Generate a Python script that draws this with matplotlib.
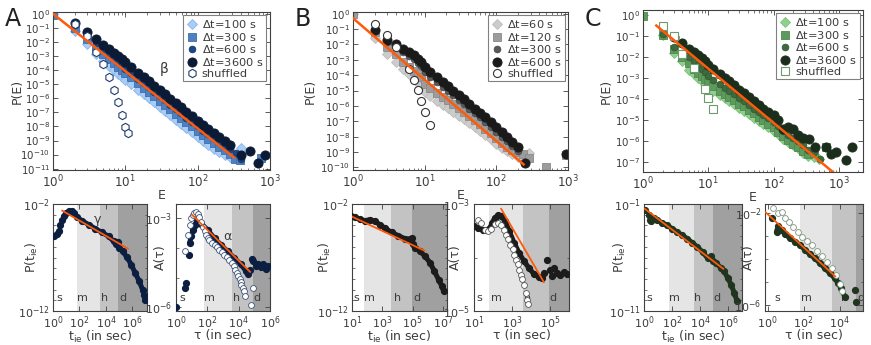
import numpy as np
import matplotlib
matplotlib.use("Agg")
import matplotlib.pyplot as plt
from matplotlib.ticker import FixedLocator, NullFormatter, NullLocator

nan = np.nan

# ---------------- top row: P(E), values are log10 P ----------------
E_bins = [1, 2, 3, 4, 5, 6, 7, 8, 9, 10, 12, 15, 18, 21, 25, 30, 35, 42, 50,
          59, 70, 83, 100, 119, 141, 168, 200, 237, 282]

A_100 = [-0.05, -1.2, -2.15, -2.85, -3.35, -3.7, -4.0, -4.25, -4.5, -4.7, -5.02, -5.4, -5.72, -5.98,
         -6.3, -6.62, -6.9, -7.22, -7.53, -7.82, -8.12, -8.42, -8.72, -9.02, -9.3, -9.58, -9.85, -10.05, -10.2]
A_300 = [-0.1, -1.0, -1.8, -2.4, -2.85, -3.2, -3.5, -3.75, -3.98, -4.2, -4.52, -4.92, -5.25, -5.52,
         -5.85, -6.18, -6.45, -6.78, -7.1, -7.4, -7.7, -8.0, -8.32, -8.62, -8.9, -9.17, -9.45, -9.7, -9.95]
A_600 = [nan, -0.8, -1.5, -2.05, -2.5, -2.85, -3.15, -3.4, -3.65, -3.9, -4.2, -4.6, -4.92, -5.2,
         -5.52, -5.85, -6.12, -6.45, -6.77, -7.07, -7.37, -7.68, -8.0, -8.3, -8.57, -8.85, -9.12, -9.38, -9.62]
A_3600 = [nan, -0.66, -1.32, -1.8, -2.2, -2.5, -2.78, -3.0, -3.22, -3.45, -3.78, -4.18, -4.5, -4.78,
          -5.1, -5.43, -5.7, -6.03, -6.35, -6.65, -6.95, -7.26, -7.6, -7.9, -8.17, -8.47, -8.75, -9.03, -9.35]
A_100_tailE, A_100_tailP = [340, 400], [-10.15, -9.5]
A_300_tailE, A_300_tailP = [330, 390, 760], [-10.3, -10.4, -10.25]
A_600_tailE, A_600_tailP = [340, 400], [-9.9, -10.3]
A_3600_tailE, A_3600_tailP = [400, 525, 685, 850], [-10.0, -9.76, -10.6, -10.05]
A_shufE = [2, 3, 4, 5, 6, 7, 8, 9, 10, 11]
A_shufP = [-0.75, -1.6, -2.7, -3.55, -4.5, -5.4, -6.3, -7.2, -8.05, -8.5]
A_fitE, A_fitP = [1, 320], [0.0, -10.2]

B_60 = [0.0, -1.56, -2.6, -3.14, -3.6, -3.95, -4.25, -4.5, -4.72, -5.1, -5.38, -5.68, -5.92, -6.15,
        -6.4, -6.65, -6.88, -7.12, -7.38, -7.62, -7.88, -8.15, -8.45, -8.72, -8.95, -9.15, -9.3, -9.4, -9.05]
B_120 = [-0.05, -1.19, -2.16, -2.6, -3.14, -3.45, -3.7, -3.95, -4.15, -4.6, -4.85, -5.15, -5.4, -5.62,
         -5.88, -6.15, -6.38, -6.65, -6.92, -7.2, -7.48, -7.78, -8.08, -8.38, -8.65, -8.85, -9.0, -9.1, -9.4]
B_300 = [nan, -1.15, -1.85, -2.15, -2.5, -2.75, -2.98, -3.2, -3.4, -3.8, -4.1, -4.45, -4.75, -5.02,
         -5.32, -5.62, -5.88, -6.18, -6.48, -6.75, -7.05, -7.35, -7.68, -8.0, -8.3, -8.6, -8.9, nan, nan]
B_600 = [nan, -1.04, -1.73, -1.95, -2.27, -2.5, -2.72, -2.95, -3.15, -3.5, -3.8, -4.15, -4.45, -4.72,
         -5.02, -5.32, -5.58, -5.88, -6.18, -6.45, -6.75, -7.05, -7.38, -7.7, -8.0, -8.32, -8.66, nan, nan]
B_60_tailE, B_60_tailP = [], []
B_120_tailE, B_120_tailP = [500, 930], [-9.95, -9.2]
B_300_tailE, B_300_tailP = [930], [-9.2]
B_600_tailE, B_600_tailP = [250, 930], [-9.7, -9.1]
B_shufE = [2, 3, 4, 6, 7, 8, 9, 10, 12]
B_shufP = [-0.69, -1.41, -2.16, -3.57, -4.33, -4.98, -5.67, -6.39, -7.25]
B_fitE, B_fitP = [1, 240], [-0.3, -9.8]

C_100 = [nan, -0.95, -1.81, -2.2, -2.6, -2.8, -3.0, -3.15, -3.3, -3.42, -3.6, -3.8, -3.95, -4.1,
         -4.25, -4.42, -4.55, -4.72, -4.88, -5.02, -5.18, -5.35, -5.5, -5.68, -5.88, -6.05, -6.2, -6.35, -6.55]
C_300 = [-0.05, -0.95, -1.6, -2.0, -2.3, -2.55, -2.75, -2.9, -3.05, -3.2, -3.4, -3.6, -3.75, -3.9,
         -4.05, -4.22, -4.35, -4.52, -4.68, -4.85, -5.0, -5.18, -5.35, -5.55, -5.75, -5.95, -6.15, -6.3, -6.45]
C_600 = [nan, -0.9, -1.5, -1.8, -2.0, -2.2, -2.4, -2.55, -2.7, -2.9, -3.1, -3.3, -3.45, -3.6,
         -3.75, -3.95, -4.1, -4.3, -4.45, -4.6, -4.75, -4.92, -5.1, -5.3, -5.5, -5.7, -5.85, -6.0, -6.2]
C_3600 = [nan, nan, -1.05, -1.34, -1.6, -1.75, -1.9, -2.05, -2.2, -2.36, -2.55, -2.8, -3.0, -3.15,
          -3.35, -3.55, -3.72, -3.92, -4.1, -4.3, -4.48, -4.62, -4.75, -5.0, -5.4, -5.35, -5.42, -5.7, -5.85]
C_100_tailE, C_100_tailP = [340, 420, 500], [-6.7, -6.75, -6.85]
C_300_tailE, C_300_tailP = [340, 420, 640], [-6.6, -6.55, -6.3]
C_600_tailE, C_600_tailP = [340, 420, 520], [-6.4, -6.5, -6.85]
C_3600_tailE = [355, 425, 640, 760, 900, 1290, 1600]
C_3600_tailP = [-5.9, -6.29, -6.29, -6.6, -6.5, -6.9, -6.3]
C_shufE = [2, 3, 4, 6, 9, 10, 12]
C_shufP = [-0.52, -1.02, -1.85, -2.52, -3.51, -3.93, -4.45]
C_fitE, C_fitP = [1.6, 810], [-0.5, -7.47]

# ---------------- bottom row: log10 t, log10 value ----------------
A_tie_t = [0.07, 0.27, 0.45, 0.52, 0.65, 0.82, 1.0, 1.2, 1.4, 1.57, 1.82, 2.2, 2.7, 3.2, 3.7, 4.2,
           4.58, 4.76, 4.91, 5.0, 5.26, 5.59, 5.91, 6.21, 6.51, 6.76, 6.89, 6.96]
A_tie_P = [-5.02, -4.8, -4.55, -3.93, -3.46, -3.15, -2.84, -2.69, -2.69, -2.84, -3.25, -3.56, -3.93,
           -4.31, -4.65, -5.02, -5.49, -5.71, -5.55, -6.11, -6.42, -6.98, -7.67, -8.45, -9.22, -10.0, -10.48, -10.94]
A_tie_fit_t, A_tie_fit_P = [0.7, 5.66], [-2.62, -6.17]

A_ac_t = [0.03, 0.56, 0.66, 0.81, 0.87, 0.98, 1.08, 1.19, 1.36, 1.61, 2.03, 2.46, 2.88, 3.3, 3.72, 4.14,
          4.46, 4.6, 4.73, 4.82, 4.94, 5.09, 5.24, 5.41, 5.58, 5.75, 5.89]
A_ac_A = [-6.0, -5.34, -5.2, -4.25, -3.85, -3.59, -3.4, -3.24, -3.07, -3.18, -3.4, -3.68, -3.9, -4.12,
          -4.34, -4.56, -4.78, -4.87, -4.73, -4.37, -4.43, -4.62, -4.54, -4.65, -4.56, -4.7, -4.62]
A_acs_t = [0.56, 0.77, 0.87, 0.98, 1.08, 1.18, 1.29, 1.4, 1.5, 1.6, 1.72, 1.83, 1.93, 2.04, 2.14, 2.3,
           2.46, 2.62, 2.77, 2.93, 3.09, 3.25, 3.41, 3.55, 3.68, 3.79, 3.89, 3.98, 4.06, 4.12, 4.18,
           4.25, 4.31, 4.39, 4.77, 4.94]
A_acs_A = [-4.12, -3.57, -3.24, -2.99, -2.88, -2.82, -2.79, -2.85, -2.96, -3.12, -3.29, -3.44, -3.57,
           -3.67, -3.74, -3.82, -3.9, -3.98, -4.07, -4.15, -4.23, -4.31, -4.4, -4.51, -4.62, -4.73,
           -4.84, -4.95, -5.06, -5.15, -5.25, -5.36, -5.47, -5.61, -5.94, -5.36]
A_ac_fit_t, A_ac_fit_A = [1.02, 4.73], [-2.88, -4.81]

B_tie_t = [0.96, 1.18, 1.51, 1.84, 2.17, 2.5, 2.84, 3.17, 3.61, 4.05, 4.49, 4.82, 4.93, 5.0, 5.15,
           5.48, 5.81, 6.15, 6.43, 6.7, 6.92, 7.03]
B_tie_P = [-3.15, -3.25, -3.4, -3.56, -3.46, -3.62, -3.93, -4.24, -4.65, -4.96, -5.24, -5.3, -5.2,
           -5.74, -6.11, -6.42, -6.89, -7.51, -8.29, -9.07, -9.69, -10.16]
B_tie_fit_t, B_tie_fit_P = [0.96, 5.77], [-3.15, -6.36]

B_ac_t = [1.02, 1.22, 1.48, 1.65, 1.83, 1.95, 2.09, 2.26, 2.43, 2.64, 2.86, 3.12, 3.38, 3.64, 3.9,
          4.16, 4.42, 4.59, 4.71, 4.85, 4.99, 5.11, 5.23, 5.37, 5.54, 5.72, 5.89]
B_ac_A = [-3.42, -3.45, -3.48, -3.49, -3.45, -3.36, -3.26, -3.21, -3.23, -3.32, -3.51, -3.73, -3.92,
          -4.07, -4.2, -4.31, -4.37, -4.38, -4.29, -4.04, -4.23, -4.35, -4.2, -4.29, -4.32, -4.27, -4.31]
B_acs_t = [1.22, 1.39, 1.57, 1.74, 1.91, 2.09, 2.26, 2.43, 2.57, 2.69, 2.81, 2.92, 3.04, 3.12, 3.21,
           3.3, 3.38, 3.47, 3.55, 3.64, 3.72, 3.81, 3.87]
B_acs_A = [-3.29, -3.36, -3.48, -3.51, -3.46, -3.37, -3.36, -3.4, -3.48, -3.57, -3.66, -3.76, -3.85,
           -3.95, -4.04, -4.13, -4.23, -4.32, -4.41, -4.52, -4.66, -4.79, -4.87]
B_ac_fit_t, B_ac_fit_A = [2.43, 4.68], [-3.09, -4.46]

C_tie_t = [0.05, 0.34, 0.46, 0.53, 0.7, 0.94, 1.3, 1.66, 2.02, 2.38, 2.74, 3.1, 3.46, 3.82, 4.18,
           4.54, 4.78, 4.94, 5.14, 5.5, 5.73, 5.98, 6.22, 6.45, 6.65]
C_tie_P = [-1.53, -2.0, -2.47, -2.62, -2.31, -2.47, -2.78, -2.99, -3.31, -3.62, -3.93, -4.24, -4.64,
           -5.02, -5.49, -6.05, -5.89, -6.36, -6.51, -6.98, -7.29, -7.92, -8.54, -9.32, -10.1]
C_tie_fit_t, C_tie_fit_P = [0.05, 5.66], [-1.44, -7.05]

C_ac_t = [0.22, 0.49, 0.59, 0.77, 0.96, 1.24, 1.51, 1.79, 2.07, 2.34, 2.62, 2.9, 3.17, 3.45, 3.73,
          3.91, 4.09, 4.28, 4.84, 4.92]
C_ac_A = [-2.22, -2.8, -2.54, -2.73, -2.92, -3.09, -3.24, -3.38, -3.6, -3.79, -3.97, -4.18, -4.4,
          -4.62, -4.84, -5.06, -5.28, -5.64, -5.35, -5.86]
C_acs_t = [0.31, 0.59, 0.77, 0.96, 1.18, 1.42, 1.66, 1.92, 2.21, 2.49, 2.76, 3.04, 3.32, 3.58, 3.82,
           4.0, 4.13]
C_acs_A = [-1.78, -2.0, -1.93, -2.19, -2.39, -2.62, -2.83, -3.02, -3.21, -3.41, -3.65, -3.89, -4.14,
           -4.4, -4.72, -5.1, -5.39]
C_ac_fit_t, C_ac_fit_A = [-0.12, 3.76], [-1.96, -4.76]

# time scale boundaries: minute, hour, day
bounds = [60, 3600, 86400]
region_names = ["s", "m", "h", "d"]

ORANGE = "#ff5a0a"
TXT = "#3c3c3c"
LABEL_FS = 9

plt.rcParams["font.family"] = ["DejaVu Sans"]
plt.rcParams["mathtext.default"] = "regular"

fig = plt.figure(figsize=(8.71, 3.45), dpi=100)


def style_axes(ax, fs):
    for s in ax.spines.values():
        s.set_color("#404040")
        s.set_linewidth(0.8)
    ax.tick_params(which="both", direction="in", top=True, right=True,
                   labelsize=fs, labelcolor=TXT, color="#404040", pad=2.5)
    ax.tick_params(which="major", length=3.5, width=0.6)
    ax.tick_params(which="minor", length=1.8, width=0.5)


def top_panel(rect, runs, shufE, shufP, shuf_style, fitE, fitP, xlim, ylim, ydecs, ylab_x):
    ax = fig.add_axes(rect)
    ax.set_xscale("log")
    ax.set_yscale("log")
    for lab, logP, tE, tP, mk, ms, fc, ec in runs:
        E = np.array(E_bins + tE, dtype=float)
        P = 10.0 ** np.array(logP + tP, dtype=float)
        ax.plot(E, P, ls="none", marker=mk, ms=ms, mfc=fc, mec=ec, mew=0.6, label=lab)
    mk, ms, ec = shuf_style
    ax.plot(shufE, 10.0 ** np.array(shufP), ls="none", marker=mk, ms=ms, mfc="white",
            mec=ec, mew=0.8, label="shuffled")
    ax.plot(fitE, 10.0 ** np.array(fitP), color=ORANGE, lw=1.8, zorder=5)
    ax.set_xlim(*xlim)
    ax.set_ylim(*ylim)
    ax.set_xticks([1, 10, 100, 1000])
    ax.yaxis.set_major_locator(FixedLocator(10.0 ** np.array(ydecs)))
    ax.yaxis.set_minor_locator(NullLocator())
    style_axes(ax, 7.4)
    ax.tick_params(axis="y", pad=2)
    ax.tick_params(axis="x", labelsize=8.6)
    ax.set_xlabel("E", fontsize=LABEL_FS, color=TXT, labelpad=-0.5)
    ax.set_ylabel("P(E)", fontsize=LABEL_FS, color=TXT)
    ax.yaxis.set_label_coords(ylab_x, 0.5)
    leg = ax.legend(loc="upper right", fontsize=8.2, numpoints=1, handlelength=1.0,
                    handletextpad=0.4, labelspacing=0.05, borderpad=0.25, borderaxespad=0.3,
                    fancybox=False, edgecolor="#808080", framealpha=1)
    leg.get_frame().set_linewidth(0.8)
    for t in leg.get_texts():
        t.set_color(TXT)
    return ax


def bottom_panel(rect, xlim, ylim, xticks, ymajor, yminor, label_x, ylabel, xlabel, ylab_x):
    ax = fig.add_axes(rect)
    ax.set_xscale("log")
    ax.set_yscale("log")
    edges = [xlim[0]] + bounds + [xlim[1]]
    shades = ["white", "#e5e5e5", "#c3c3c3", "#a0a0a0"]
    for i in range(4):
        ax.axvspan(edges[i], edges[i + 1], color=shades[i], lw=0, zorder=0)
    for x, name in zip(label_x, region_names):
        ax.text(x, 0.12, name, transform=ax.get_xaxis_transform(), fontsize=8,
                color=TXT, ha="center", va="center", zorder=1, clip_on=True)
    ax.set_xlim(*xlim)
    ax.set_ylim(*ylim)
    ax.set_xticks(xticks)
    ax.xaxis.set_minor_locator(NullLocator())
    ax.yaxis.set_major_locator(FixedLocator(ymajor))
    ax.yaxis.set_minor_locator(FixedLocator(yminor))
    ax.yaxis.set_minor_formatter(NullFormatter())
    style_axes(ax, 8.0)
    ax.set_ylabel(ylabel, fontsize=LABEL_FS, color=TXT)
    ax.yaxis.set_label_coords(ylab_x, 0.5)
    ax.set_xlabel(xlabel, fontsize=LABEL_FS, color=TXT, labelpad=-1.5)
    return ax


def dense(ax, lt, lv, color, start, stop, ms=4.2):
    t = 10.0 ** np.array(lt)
    v = 10.0 ** np.array(lv)
    ax.plot(t[start:stop], v[start:stop], color=color, lw=3.6, solid_capstyle="round", zorder=2)
    ax.plot(t, v, ls="none", marker="o", ms=ms, mfc=color, mec=color, zorder=3)


def fitline(ax, lt, lv):
    ax.plot(10.0 ** np.array(lt), 10.0 ** np.array(lv), color=ORANGE, lw=1.3, zorder=6)


def open_pts(ax, lt, lv, ec, ms=4.2):
    ax.plot(10.0 ** np.array(lt), 10.0 ** np.array(lv), ls="none", marker="o", ms=ms,
            mfc="white", mec=ec, mew=0.6, zorder=4)


# ---------------- top row ----------------
runsA = [
    (r"$\Delta$t=100 s", A_100, A_100_tailE, A_100_tailP, "D", 5.0, "#a9cdf6", "#8bb6ec"),
    (r"$\Delta$t=300 s", A_300, A_300_tailE, A_300_tailP, "s", 6.0, "#4f80c0", "#3f6fae"),
    (r"$\Delta$t=600 s", A_600, A_600_tailE, A_600_tailP, "o", 4.8, "#1c4686", "#163a70"),
    (r"$\Delta$t=3600 s", A_3600, A_3600_tailE, A_3600_tailP, "o", 6.6, "#0b1a35", "#0b1a35"),
]
axA = top_panel([0.0608, 0.507, 0.249, 0.458], runsA, A_shufE, A_shufP, ("h", 6.0, "#1f3d6e"),
                A_fitE, A_fitP, (1, 1000), (10 ** -11.1, 10 ** 0.12), list(range(0, -12, -1)), -0.135)
axA.text(34, 10 ** -3.9, "β", fontsize=10, color=TXT, ha="center", va="center")

runsB = [
    (r"$\Delta$t=60 s", B_60, B_60_tailE, B_60_tailP, "D", 5.0, "#cccccc", "#bdbdbd"),
    (r"$\Delta$t=120 s", B_120, B_120_tailE, B_120_tailP, "s", 6.0, "#9c9c9c", "#8a8a8a"),
    (r"$\Delta$t=300 s", B_300, B_300_tailE, B_300_tailP, "o", 4.8, "#5a5a5a", "#4a4a4a"),
    (r"$\Delta$t=600 s", B_600, B_600_tailE, B_600_tailP, "o", 6.6, "#1a1a1a", "#1a1a1a"),
]
top_panel([0.4053, 0.507, 0.2468, 0.458], runsB, B_shufE, B_shufP, ("o", 5.8, "#333333"),
          B_fitE, B_fitP, (1, 1000), (10 ** -10.17, 10 ** 0.1), list(range(0, -11, -1)), -0.167)

runsC = [
    (r"$\Delta$t=100 s", C_100, C_100_tailE, C_100_tailP, "D", 5.0, "#8fd08f", "#7cbf7c"),
    (r"$\Delta$t=300 s", C_300, C_300_tailE, C_300_tailP, "s", 6.0, "#5e9a5e", "#4e884e"),
    (r"$\Delta$t=600 s", C_600, C_600_tailE, C_600_tailP, "o", 4.8, "#3e6a3e", "#335a33"),
    (r"$\Delta$t=3600 s", C_3600, C_3600_tailE, C_3600_tailP, "o", 6.6, "#1b2d1b", "#1b2d1b"),
]
top_panel([0.7382, 0.5014, 0.2526, 0.4696], runsC, C_shufE, C_shufP, ("s", 6.0, "#6e9a6e"),
          C_fitE, C_fitP, (1, 10 ** 3.37), (10 ** -7.47, 10 ** 0.24), list(range(0, -8, -1)), -0.136)

# ---------------- bottom row ----------------
tie_label = r"P($t_{ie}$)"
tie_x = r"$t_{ie}$ (in sec)"
NAVY = "#0c1f40"
BLACK = "#1c1c1c"
DGREEN = "#1f3520"

ax = bottom_panel([0.0608, 0.0986, 0.108, 0.310], (1, 10 ** 7.1), (1e-12, 1e-2),
                  [1, 1e2, 1e4, 1e6], [1e-12, 1e-2], 10.0 ** np.arange(-11, -2),
                  [3, 180, 8000, 1.8e5], tie_label, tie_x, -0.14)
dense(ax, A_tie_t, A_tie_P, NAVY, 6, None)
fitline(ax, A_tie_fit_t, A_tie_fit_P)
ax.text(10 ** 3.4, 10 ** -3.45, "γ", fontsize=9, color=TXT, ha="center", va="center", zorder=7)

ax = bottom_panel([0.202, 0.0986, 0.108, 0.310], (1, 1e6), (10 ** -6.13, 10 ** -2.52),
                  [1, 1e2, 1e4, 1e6], [1e-6, 1e-3], [1e-5, 1e-4],
                  [2.5, 140, 7800, 1.4e5], "A(τ)", "τ (in sec)", -0.10)
dense(ax, A_ac_t, A_ac_A, NAVY, 4, 18)
open_pts(ax, A_acs_t, A_acs_A, "#3b5378")
fitline(ax, A_ac_fit_t, A_ac_fit_A)
ax.text(10 ** 3.25, 10 ** -3.6, "α", fontsize=9, color=TXT, ha="center", va="center", zorder=7)

ax = bottom_panel([0.4041, 0.0986, 0.109, 0.310], (10, 10 ** 7.25), (1e-12, 1e-2),
                  [1e1, 1e3, 1e5, 1e7], [1e-12, 1e-2], 10.0 ** np.arange(-11, -2),
                  [20, 150, 1e4, 1.9e5], tie_label, tie_x, -0.20)
dense(ax, B_tie_t, B_tie_P, BLACK, 0, None)
fitline(ax, B_tie_fit_t, B_tie_fit_P)

ax = bottom_panel([0.5442, 0.0986, 0.109, 0.310], (10, 1e6), (1e-5, 1e-3),
                  [1e1, 1e3, 1e5], [1e-5, 1e-3], [1e-4],
                  [20, 150, 6500, 1.45e5], "A(τ)", "τ (in sec)", -0.126)
dense(ax, B_ac_t, B_ac_A, BLACK, 0, 18)
open_pts(ax, B_acs_t, B_acs_A, "#555555")
fitline(ax, B_ac_fit_t, B_ac_fit_A)

ax = bottom_panel([0.7394, 0.0986, 0.1125, 0.310], (1, 1e7), (1e-11, 1e-1),
                  [1, 1e2, 1e4, 1e6], [1e-11, 1e-1], 10.0 ** np.arange(-10, -1),
                  [2.5, 160, 6600, 1.6e5], tie_label, tie_x, -0.16)
dense(ax, C_tie_t, C_tie_P, DGREEN, 4, None)
fitline(ax, C_tie_fit_t, C_tie_fit_P)

ax = bottom_panel([0.8783, 0.0986, 0.1125, 0.310], (10 ** -0.15, 10 ** 5.3), (10 ** -6.27, 10 ** -1.6),
                  [1, 1e2, 1e4], [1e-6, 1e-2], [1e-5, 1e-4, 1e-3],
                  [3.4, 140, 2e4, 1.6e5], "A(τ)", "τ (in sec)", -0.10)
open_pts(ax, C_acs_t, C_acs_A, "#7f947f")
dense(ax, C_ac_t, C_ac_A, DGREEN, 1, 18)
fitline(ax, C_ac_fit_t, C_ac_fit_A)

for x, letter in [(0.015, "A"), (0.348, "B"), (0.681, "C")]:
    fig.text(x, 0.945, letter, fontsize=17, color="#222222", ha="center", va="center")

fig.savefig("out.png", dpi=100, facecolor="white")
